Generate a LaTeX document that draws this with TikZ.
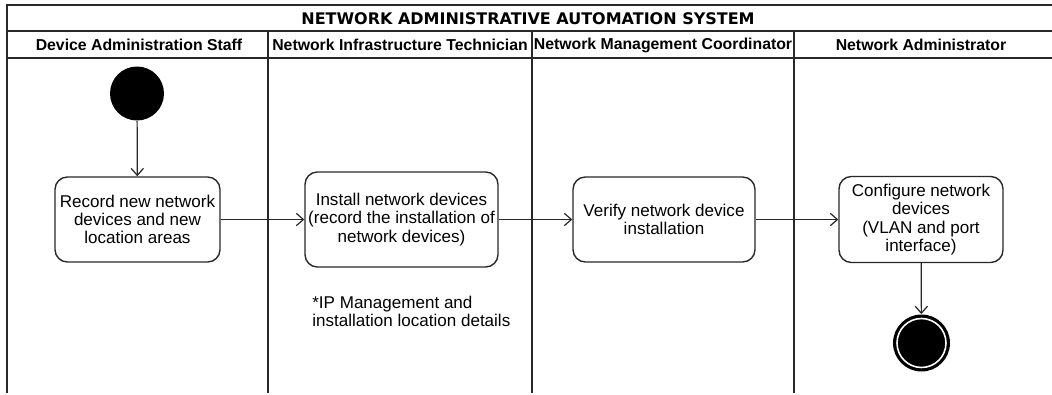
\documentclass[tikz,border=0pt]{standalone}
\usepackage{fontspec}
\setmainfont{Liberation Sans}
\newfontfamily\titlefont{DejaVu Sans}
\usepackage{tikz}
\usetikzlibrary{positioning, arrows.meta, shapes}
\definecolor{linea}{RGB}{40, 40, 40}
\tikzset{
    lane/.style={draw=linea, line width=0.7pt},
    action/.style={draw=linea, rectangle, rounded corners=7pt, line width=0.8pt, align=center, font=\fontsize{9.7}{10.4}\selectfont, inner sep=0pt},
    inicio/.style={circle, fill=black, minimum size=1.08cm, inner sep=0pt},
    fin/.style={circle, fill=black, minimum size=1.14cm, inner sep=0pt,
        path picture={\draw[white, line width=0.9pt] (path picture bounding box.center) circle (0.49cm);}},
    flow/.style={-{Straight Barb[length=4pt, width=7pt]}, linea, line width=0.7pt},
    laneTitle/.style={font=\bfseries\fontsize{9}{10}\selectfont},
}
\begin{document}
\begin{tikzpicture}[x=0.02cm, y=-0.02cm]
    \useasboundingbox (0,0) rectangle (1052,395);

    % swimlane frame
    \draw[lane] (7,393) -- (7,5) -- (1052,5);
    \draw[lane] (7,31) -- (1052,31);
    \draw[lane] (7,58) -- (1052,58);
    \foreach \xl in {268, 532, 794}
        \draw[lane] (\xl,31) -- (\xl,393);

    \node[font=\titlefont\bfseries\fontsize{9.1}{10}\selectfont] (title) at (528,18.5) {NETWORK ADMINISTRATIVE AUTOMATION SYSTEM};
    \node[laneTitle] (h1) at (139,45) {Device Administration Staff};
    \node[laneTitle] (h2) at (400,45) {Network Infrastructure Technician};
    \node[laneTitle] (h3) at (663,45) {Network Management Coordinator};
    \node[laneTitle] (h4) at (921,45) {Network Administrator};

    \node[inicio] (start) at (137,93.5) {};
    \node[action, minimum width=3.3cm, minimum height=1.7cm] (a1) at (137.5,219.5)
        {Record new network\\devices and new\\location areas};
    \node[action, minimum width=3.86cm, minimum height=1.9cm] (a2) at (401.5,219.5)
        {Install network devices\\(record the installation of\\network devices)};
    \node[action, minimum width=3.64cm, minimum height=1.7cm] (a3) at (664,219.5)
        {Verify network device\\installation};
    \node[action, minimum width=3.28cm, minimum height=1.72cm] (a4) at (921,219.5)
        {Configure network\\devices\\(VLAN and port\\interface)};
    \node[fin] (stop) at (921.5,343) {};

    \node[anchor=north west, align=left, inner sep=0pt, font=\fontsize{9.7}{10.4}\selectfont] (note) at (312,296)
        {*IP Management and\\installation location details};

    \draw[flow] (start) -- (a1);
    \draw[flow] (a1) -- (a2);
    \draw[flow] (a2) -- (a3);
    \draw[flow] (a3) -- (a4);
    \draw[flow] (a4) -- (stop);
\end{tikzpicture}
\end{document}
